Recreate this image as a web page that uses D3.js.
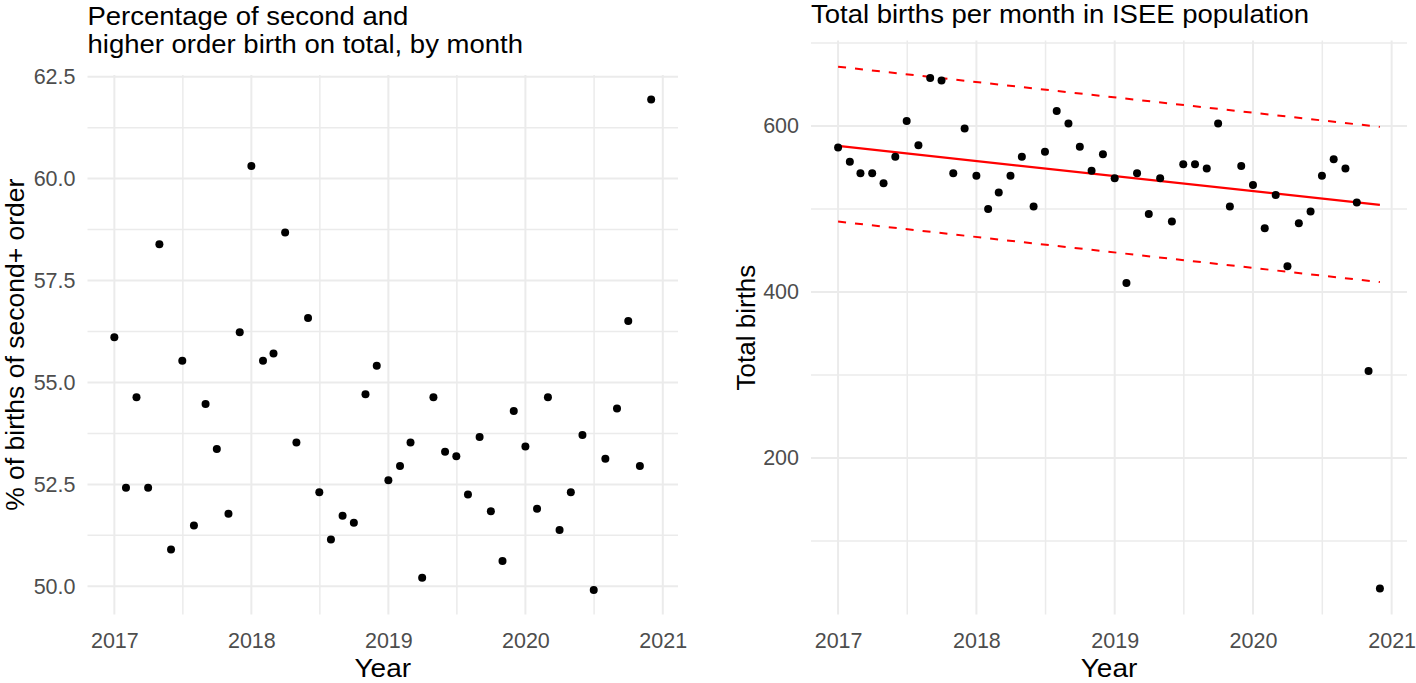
<!DOCTYPE html>
<html><head><meta charset="utf-8">
<script src="https://cdn.jsdelivr.net/npm/d3@7"></script>
<style>
html,body{margin:0;padding:0;background:#fff;}
svg{display:block;}
text{font-family:"Liberation Sans",Arial,Helvetica,sans-serif;}
</style></head><body>
<svg id="chart" width="1416" height="683"></svg>
<script>
// ---------- data ----------
const monthLabels = [
 "2017-01","2017-02","2017-03","2017-04","2017-05","2017-06","2017-07","2017-08","2017-09","2017-10","2017-11","2017-12",
 "2018-01","2018-02","2018-03","2018-04","2018-05","2018-06","2018-07","2018-08","2018-09","2018-10","2018-11","2018-12",
 "2019-01","2019-02","2019-03","2019-04","2019-05","2019-06","2019-07","2019-08","2019-09","2019-10","2019-11","2019-12",
 "2020-01","2020-02","2020-03","2020-04","2020-05","2020-06","2020-07","2020-08","2020-09","2020-10","2020-11","2020-12"];

const pctSecond = [
 56.11, 52.42, 54.64, 52.42, 58.39, 50.90, 55.53, 51.49, 54.47, 53.37, 51.78, 56.23,
 60.31, 55.53, 55.71, 58.68, 53.53, 56.58, 52.31, 51.15, 51.73, 51.56, 54.71, 55.41,
 52.60, 52.95, 53.53, 50.21, 54.64, 53.30, 53.19, 52.25, 53.66, 51.84, 50.62, 54.30,
 53.43, 51.90, 54.64, 51.38, 52.31, 53.71, 49.91, 53.13, 54.36, 56.51, 52.95, 61.94];

const totalBirths = [
 574, 557, 543, 543, 531, 563, 606, 577, 658, 655, 543, 597,
 540, 500, 520, 540, 563, 503, 569, 618, 603, 575, 546, 566,
 537, 411, 543, 494, 537, 485, 554, 554, 549, 603, 503, 552,
 529, 477, 517, 431, 483, 497, 540, 560, 549, 508, 305, 43];

const trendMonths = ["2017-01", "2020-12"];
const trendFit   = [576, 505];
const trendUpper = [671.5, 599];
const trendLower = [485, 412];

const yearTicks  = ["2017", "2018", "2019", "2020", "2021"];
const pctTicks   = [50, 52.5, 55, 57.5, 60, 62.5];
const birthTicks = [200, 400, 600];

const leftTitle  = ["Percentage of second and", "higher order birth on total, by month"];
const rightTitle = "Total births per month in ISEE population";
const leftYLabel = "% of births of second+ order";
const rightYLabel = "Total births";
const xLabel = "Year";

// ---------- helpers ----------
const parseM = d3.timeParse("%Y-%m");
const parseY = d3.timeParse("%Y");
const dates = monthLabels.map(parseM);
const yearDates = yearTicks.map(parseY);
const svg = d3.select("#chart");
const GRID = "#ebebeb";

function expandNum(ext){ const r = ext[1]-ext[0]; return [ext[0]-0.05*r, ext[1]+0.05*r]; }
function expandDate(ext){ const r = ext[1]-ext[0]; return [new Date(+ext[0]-0.05*r), new Date(+ext[1]+0.05*r)]; }
function mids(arr, lo, hi){
  const out = [];
  const step = arr[1]-arr[0];
  const ext = [arr[0]-step, ...arr, arr[arr.length-1]+step];
  for (let i=0;i<ext.length-1;i++){ const m=(ext[i]+ext[i+1])/2; if(m>=lo&&m<=hi) out.push(m); }
  return out;
}
function dateMids(arr, lo, hi){
  const out = [];
  for (let i=0;i<arr.length-1;i++){ const m=new Date((+arr[i]+ +arr[i+1])/2); if(m>=lo&&m<=hi) out.push(m); }
  return out;
}

function panel(cfg){
  const {x0,x1,y0,y1,yvals,extraY,yTicks,yFmt} = cfg;
  const x = d3.scaleTime().domain(expandDate(d3.extent(dates))).range([x0,x1]);
  const allY = yvals.concat(extraY||[]);
  const y = d3.scaleLinear().domain(expandNum(d3.extent(allY))).range([y1,y0]);
  const g = svg.append("g");
  const [ylo,yhi] = y.domain();
  const [xlo,xhi] = x.domain();
  const yMinor = mids(yTicks, ylo, yhi);
  const xMinor = dateMids(yearDates, xlo, xhi);
  g.selectAll(".ymin").data(yMinor).join("line")
    .attr("x1",x0).attr("x2",x1).attr("y1",d=>y(d)).attr("y2",d=>y(d))
    .attr("stroke",GRID).attr("stroke-width",1.5);
  g.selectAll(".xmin").data(xMinor).join("line")
    .attr("y1",y0).attr("y2",y1).attr("x1",d=>x(d)).attr("x2",d=>x(d))
    .attr("stroke",GRID).attr("stroke-width",1.5);
  g.selectAll(".ymaj").data(yTicks).join("line")
    .attr("x1",x0).attr("x2",x1).attr("y1",d=>y(d)).attr("y2",d=>y(d))
    .attr("stroke",GRID).attr("stroke-width",2);
  g.selectAll(".xmaj").data(yearDates).join("line")
    .attr("y1",y0).attr("y2",y1).attr("x1",d=>x(d)).attr("x2",d=>x(d))
    .attr("stroke",GRID).attr("stroke-width",2);
  const ax = g.append("g").attr("transform",`translate(0,${y1})`)
    .call(d3.axisBottom(x).tickValues(yearDates).tickFormat(d3.timeFormat("%Y")).tickSize(0).tickPadding(18));
  const ay = g.append("g").attr("transform",`translate(${x0},0)`)
    .call(d3.axisLeft(y).tickValues(yTicks).tickFormat(yFmt).tickSize(0).tickPadding(12));
  [ax,ay].forEach(a=>{
    a.select(".domain").remove();
    a.selectAll("text").attr("font-size","21.5px").attr("fill","#4d4d4d")
      .attr("font-family",'"Liberation Sans",Arial,sans-serif');
  });
  return {g,x,y};
}

// ---------- left panel ----------
const L = panel({x0:87.5,x1:678,y0:75,y1:614.5,yvals:pctSecond,yTicks:pctTicks,yFmt:d3.format(".1f")});
L.g.selectAll(".pt").data(pctSecond).join("circle")
  .attr("cx",(d,i)=>L.x(dates[i])).attr("cy",d=>L.y(d)).attr("r",4).attr("fill","#000");

// ---------- right panel ----------
const R = panel({x0:811,x1:1407,y0:40.6,y1:614.5,yvals:totalBirths,
  extraY:trendUpper.concat(trendLower),yTicks:birthTicks,yFmt:d3.format("d")});
const tDates = trendMonths.map(parseM);
const line = d3.line().x(d=>R.x(d[0])).y(d=>R.y(d[1]));
const toPts = arr => arr.map((v,i)=>[tDates[i],v]);
R.g.append("path").attr("d",line(toPts(trendUpper))).attr("fill","none")
  .attr("stroke","#ff0000").attr("stroke-width",2).attr("stroke-dasharray","8,9");
R.g.append("path").attr("d",line(toPts(trendLower))).attr("fill","none")
  .attr("stroke","#ff0000").attr("stroke-width",2).attr("stroke-dasharray","8,9");
R.g.append("path").attr("d",line(toPts(trendFit))).attr("fill","none")
  .attr("stroke","#ff0000").attr("stroke-width",2.2);
R.g.selectAll(".pt").data(totalBirths).join("circle")
  .attr("cx",(d,i)=>R.x(dates[i])).attr("cy",d=>R.y(d)).attr("r",4).attr("fill","#000");

// ---------- titles & labels ----------
const tl = svg.append("g").attr("transform","translate(87.5,0) scale(1.1,1)");
tl.selectAll("text").data(leftTitle).join("text")
  .attr("x",0).attr("y",(d,i)=>25+i*28.5).attr("font-size","25px").attr("fill","#000").text(d=>d);
svg.append("g").attr("transform","translate(811,0) scale(1.1,1)")
  .append("text").attr("x",0).attr("y",23).attr("font-size","25px").attr("fill","#000").text(rightTitle);

[(87.5+678)/2,(811+1407)/2].forEach(cx=>{
  svg.append("g").attr("transform",`translate(${cx},677) scale(1.12,1)`)
    .append("text").attr("text-anchor","middle").attr("font-size","25px").attr("fill","#000").text(xLabel);
});
svg.append("text").attr("transform",`translate(24,${(75+614.5)/2}) rotate(-90)`)
  .attr("text-anchor","middle").attr("font-size","26.5px").attr("fill","#000").text(leftYLabel);
svg.append("text").attr("transform",`translate(755,${(40.6+614.5)/2}) rotate(-90)`)
  .attr("text-anchor","middle").attr("font-size","26px").attr("fill","#000").text(rightYLabel);
</script>
</body></html>
